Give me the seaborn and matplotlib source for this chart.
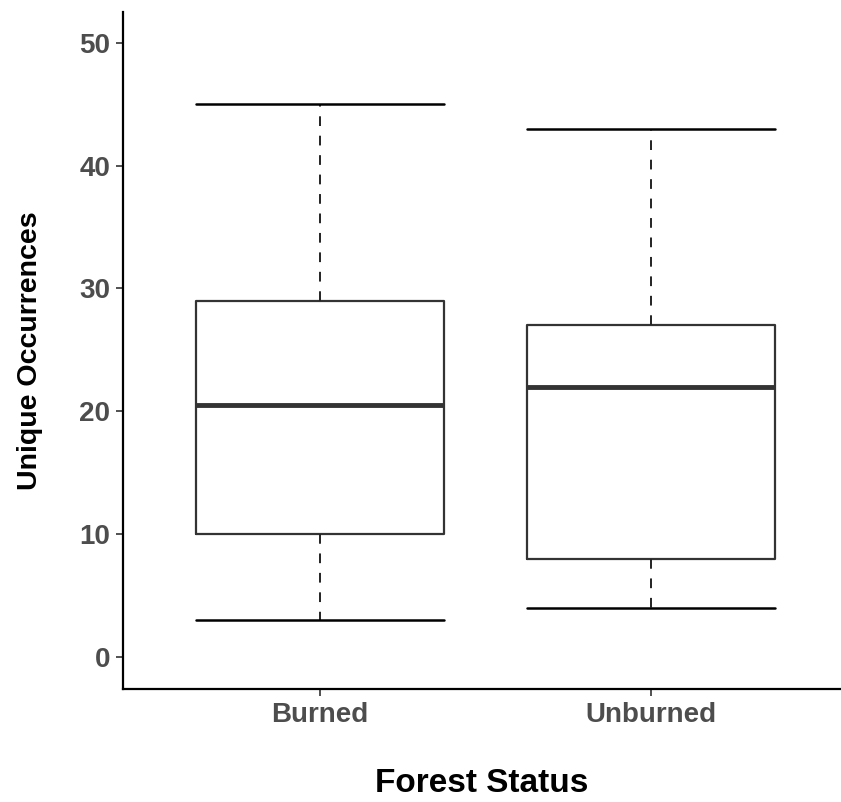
#!/usr/bin/env python3
"""Unique occurrences by forest status - boxplot"""

import pandas as pd
import numpy as np
import matplotlib
matplotlib.use("Agg")
import matplotlib.pyplot as plt
import seaborn as sns

# five-number summaries (min, q1, median, q3, max)
status = ["Burned", "Unburned"]
burned_vals = [3, 10, 20.5, 29, 45]
unburned_vals = [4, 8, 22, 27, 43]

df = pd.DataFrame({
    "Forest Status": [status[0]] * len(burned_vals) + [status[1]] * len(unburned_vals),
    "Unique Occurrences": burned_vals + unburned_vals,
})

sns.set_style("white")
plt.rcParams["font.family"] = ["Liberation Sans", "DejaVu Sans"]

fig = plt.figure(figsize=(8.41, 8.02), dpi=100)
ax = fig.add_axes([123 / 841, 1 - 689 / 802, 1 - 123 / 841, (689 - 12) / 802])

sns.boxplot(
    data=df, x="Forest Status", y="Unique Occurrences", order=status,
    width=0.75, whis=np.inf, fill=False, color="#333333", linewidth=1.6,
    ax=ax,
    boxprops=dict(color="#333333", linewidth=1.6),
    medianprops=dict(color="#333333", linewidth=3.5),
    whiskerprops=dict(color="#222222", linewidth=1.4, linestyle=(0, (5, 5))),
    capprops=dict(color="black", linewidth=1.8),
)

# caps as wide as the boxes
for cap in [l for l in ax.lines if l.get_linewidth() == 1.8]:
    c = round(np.mean(cap.get_xdata()))
    cap.set_xdata([c - 0.375, c + 0.375])

ax.set_xlim(-0.595, 1.575)
ax.set_ylim(-2.6, 52.5)
ax.set_yticks([0, 10, 20, 30, 40, 50])

for s in ["top", "right"]:
    ax.spines[s].set_visible(False)
for s in ["left", "bottom"]:
    ax.spines[s].set_color("black")
    ax.spines[s].set_linewidth(1.6)

ax.tick_params(axis="both", length=5, width=1.2, color="#333333",
               labelsize=20, labelcolor="#4d4d4d", pad=4, left=True, bottom=True)
for lab in ax.get_xticklabels() + ax.get_yticklabels():
    lab.set_fontweight("bold")

ax.set_xlabel("Forest Status", fontsize=24, fontweight="bold", color="black", labelpad=29)
ax.set_ylabel("Unique Occurrences", fontsize=20.5, fontweight="bold", color="black", labelpad=26)

plt.savefig("out.png", dpi=100)
